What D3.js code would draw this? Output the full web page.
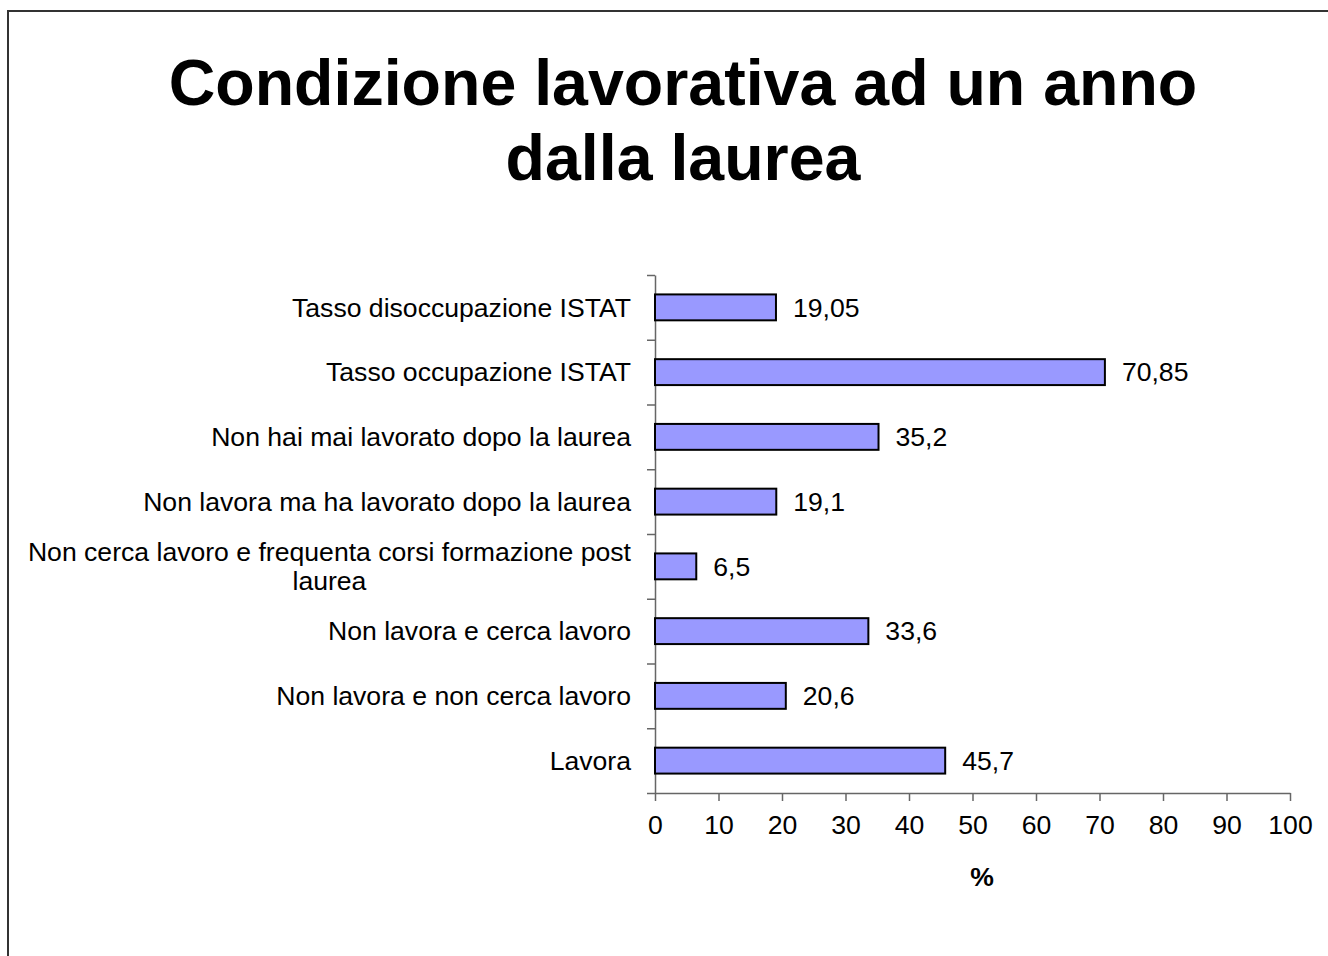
<!DOCTYPE html>
<html>
<head>
<meta charset="utf-8">
<script src="https://cdn.jsdelivr.net/npm/d3@7"></script>
<style>
body { margin: 0; background: #fff; }
svg { display: block; font-family: "Liberation Sans", Arial, sans-serif; }
</style>
</head>
<body>
<svg id="chart" width="1328" height="956"></svg>
<script>
// categories from top to bottom
var categories = ['Tasso disoccupazione ISTAT', 'Tasso occupazione ISTAT', 'Non hai mai lavorato dopo la laurea',
	'Non lavora ma ha lavorato dopo la laurea', 'Non cerca lavoro e frequenta corsi formazione post laurea',
	'Non lavora e cerca lavoro', 'Non lavora e non cerca lavoro', 'Lavora'];
var values = [19.05, 70.85, 35.2, 19.1, 6.5, 33.6, 20.6, 45.7];
var x_ticks = [0, 10, 20, 30, 40, 50, 60, 70, 80, 90, 100];
var title_lines = ['Condizione lavorativa ad un anno', 'dalla laurea'];

var font = '"Liberation Sans", Arial, sans-serif';
var fs = 26.6;
var svg = d3.select('#chart');
var left = 655, right = 1290, top_y = 275, bottom_y = 793;

// slide frame
svg.append('path')
	.attr('d', 'M8,956 L8,11 L1328,11')
	.attr('fill', 'none')
	.attr('stroke', '#333')
	.attr('stroke-width', 2);

svg.selectAll('.title').data(title_lines).enter()
	.append('text')
	.attr('class', 'title')
	.attr('x', 683)
	.attr('y', function(d, i) { return 105 + i * 75; })
	.attr('text-anchor', 'middle')
	.attr('font-size', 64.5)
	.attr('font-weight', 'bold')
	.text(function(d) { return d; });

var x = d3.scaleLinear().domain([0, 100]).range([left, right]);
var y = d3.scaleBand().domain(categories).range([top_y, bottom_y]).paddingInner(0.6).paddingOuter(0.3);
var y_lines = d3.scaleLinear().domain([0, categories.length]).range([top_y, bottom_y]);

// y axis with ticks between categories
var y_axis = svg.append('g')
	.attr('transform', 'translate(' + left + ',0)')
	.call(d3.axisLeft(y_lines).ticks(categories.length).tickFormat('').tickSize(8).tickSizeOuter(0));
y_axis.selectAll('path, line').attr('stroke', '#666').attr('stroke-width', 1.5);

var x_axis = svg.append('g')
	.attr('transform', 'translate(0,' + bottom_y + ')')
	.attr('font-family', font)
	.call(d3.axisBottom(x).tickValues(x_ticks).tickSize(8).tickSizeOuter(0).tickPadding(14));
x_axis.selectAll('path, line').attr('stroke', '#666').attr('stroke-width', 1.5);
x_axis.selectAll('text').attr('font-size', fs).attr('font-family', font).attr('fill', '#000');

// bars
svg.selectAll('.bar').data(values).enter()
	.append('rect')
	.attr('class', 'bar')
	.attr('x', x(0))
	.attr('y', function(d, i) { return y(categories[i]); })
	.attr('width', function(d) { return x(d) - x(0); })
	.attr('height', y.bandwidth())
	.attr('fill', '#9999ff')
	.attr('stroke', '#000')
	.attr('stroke-width', 2);

svg.selectAll('.val').data(values).enter()
	.append('text')
	.attr('class', 'val')
	.attr('x', function(d) { return x(d) + 17; })
	.attr('y', function(d, i) { return y(categories[i]) + y.bandwidth() / 2; })
	.attr('dy', '0.35em')
	.attr('font-size', fs)
	.text(function(d) { return String(d).replace('.', ','); });

// category labels, long one wraps onto two centered lines
var label_right = 631;
categories.forEach(function(c) {
	var cy = y(c) + y.bandwidth() / 2;
	if (c.length > 45) {
		var first = c.substring(0, c.lastIndexOf(' '));
		var second = c.substring(c.lastIndexOf(' ') + 1);
		var t1 = svg.append('text').attr('x', label_right).attr('y', cy - 14.5).attr('dy', '0.35em')
			.attr('text-anchor', 'end').attr('font-size', fs).text(first);
		var w = t1.node().getComputedTextLength();
		svg.append('text').attr('x', label_right - w / 2).attr('y', cy + 14.5).attr('dy', '0.35em')
			.attr('text-anchor', 'middle').attr('font-size', fs).text(second);
	} else {
		svg.append('text').attr('x', label_right).attr('y', cy).attr('dy', '0.35em')
			.attr('text-anchor', 'end').attr('font-size', fs).text(c);
	}
});

svg.append('text')
	.attr('x', 982)
	.attr('y', 886)
	.attr('text-anchor', 'middle')
	.attr('font-size', fs)
	.attr('font-weight', 'bold')
	.text('%');
</script>
</body>
</html>
